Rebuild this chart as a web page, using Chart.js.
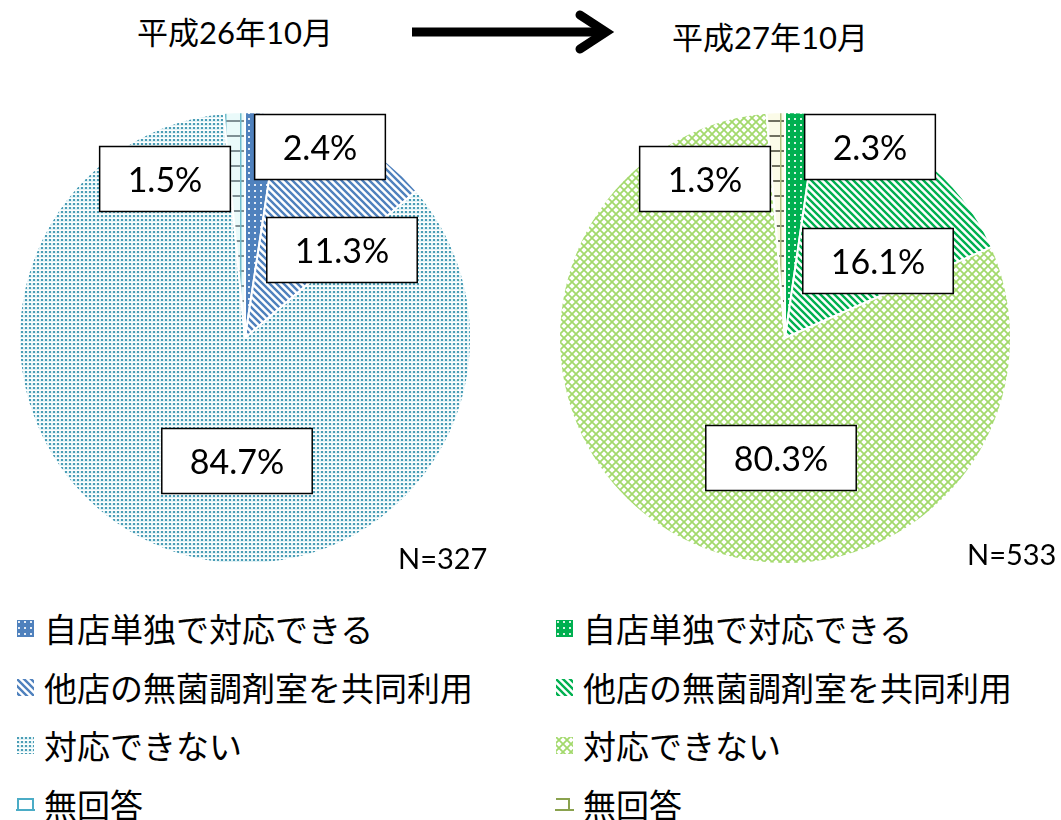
<!DOCTYPE html>
<html>
<head>
<meta charset="utf-8">
<script src="https://cdn.jsdelivr.net/npm/chart.js@4.4.1/dist/chart.umd.min.js"></script>
<style>
  body { margin: 0; background: #fff; width: 1061px; height: 820px; position: relative; overflow: hidden;
         font-family: Lato, "Noto Sans CJK JP", sans-serif; color: #000; }
  .title { position: absolute; font-size: 31px; line-height: 31px; white-space: nowrap; }
  .count { position: absolute; font-size: 29px; line-height: 29px; white-space: nowrap; }
  canvas.pie { position: absolute; }
  .row { position: absolute; display: flex; align-items: center; white-space: nowrap;
         font-family: "Noto Sans CJK JP", sans-serif; font-size: 33px; line-height: 40px; }
  .row canvas { margin-right: 9px; }
  #arrow { position: absolute; left: 400px; top: 8px; }
</style>
</head>
<body>

<div class="title" id="t0" style="left:137px;top:17px"></div>
<svg id="arrow" width="230" height="50">
  <line x1="12" y1="24" x2="200" y2="24" stroke="#000" stroke-width="9"/>
  <polyline points="180,7 206,24 180,41" fill="none" stroke="#000" stroke-width="9" stroke-linecap="round" stroke-linejoin="miter"/>
</svg>
<div class="title" id="t1" style="left:672px;top:22px"></div>

<canvas class="pie" id="pie0" width="540" height="480" style="left:0;top:98px"></canvas>
<canvas class="pie" id="pie1" width="521" height="480" style="left:540px;top:98px"></canvas>

<div class="count" id="n0" style="left:398px;top:543px"></div>
<div class="count" id="n1" style="left:967px;top:539px"></div>

<div id="legends"></div>

<script>
const periods = ['平成26年10月', '平成27年10月'];
const categories = ['自店単独で対応できる', '他店の無菌調剤室を共同利用', '対応できない', '無回答'];
const shares2014 = [2.4, 11.3, 84.7, 1.5];
const shares2015 = [2.3, 16.1, 80.3, 1.3];
const respondents = [327, 533];

// where each percentage box sits, relative to the pie centre
const boxOffsets = [
  [[75, -191], [97, -88], [-8, 123], [-80, -159]],
  [[85, -191], [93, -77], [-4, 120], [-80, -159]]
];

function tile(size, draw) {
  const c = document.createElement('canvas');
  c.width = c.height = size;
  const g = c.getContext('2d');
  draw(g, size);
  return g.createPattern(c, 'repeat');
}

// solid colour with small white dots
function dotted(base) {
  return tile(6, (g, s) => {
    g.fillStyle = base; g.fillRect(0, 0, s, s);
    g.fillStyle = 'rgba(255,255,255,0.85)'; g.fillRect(2, 2, 2, 2);
  });
}

// "\" stripes on white
function stripes(col) {
  return tile(7, (g, s) => {
    g.fillStyle = '#fff'; g.fillRect(0, 0, s, s);
    g.strokeStyle = col; g.lineWidth = 2.4;
    g.beginPath();
    g.moveTo(-2, -2); g.lineTo(s + 2, s + 2);
    g.moveTo(-2, s - 2); g.lineTo(2, s + 2);
    g.moveTo(s - 2, -2); g.lineTo(s + 2, 2);
    g.stroke();
  });
}

function speckle(col) {
  return tile(4, (g, s) => {
    g.fillStyle = '#e2f2f5'; g.fillRect(0, 0, s, s);
    g.fillStyle = '#fff'; g.fillRect(0, 0, s, 1);
    g.fillStyle = col; g.fillRect(1, 1, 2, 2);
  });
}

function lattice(col) {
  return tile(8, (g, s) => {
    g.fillStyle = '#fff'; g.fillRect(0, 0, s, s);
    g.strokeStyle = col; g.lineWidth = 1.8;
    g.beginPath();
    g.moveTo(0, 0); g.lineTo(s, s);
    g.moveTo(s, 0); g.lineTo(0, s);
    g.stroke();
  });
}

function grid(bg, hline, vline) {
  return tile(15, (g, s) => {
    g.fillStyle = bg; g.fillRect(0, 0, s, s);
    g.fillStyle = hline; g.fillRect(0, 7, s, 2);
    g.fillStyle = vline; g.fillRect(0, 0, 1.5, s);
  });
}

const fills = [
  [dotted('#4f81bd'), stripes('#4f81bd'), speckle('#4a9db6'), grid('#eafafa', '#7f8f94', '#6fbccc')],
  [dotted('#00b050'), stripes('#00b050'), lattice('#a3d96c'), grid('#fbfbe8', '#707060', '#b0c080')]
];
const edgeMarks = ['#4bacc6', '#8aa24e'];

const boxLabels = {
  id: 'boxLabels',
  afterDatasetsDraw(chart, args, opts) {
    const ctx = chart.ctx;
    const arcs = chart.getDatasetMeta(0).data;
    const vals = chart.data.datasets[0].data;
    const cx = arcs[0].x, cy = arcs[0].y;
    ctx.save();
    ctx.font = '34px Lato, "Noto Sans CJK JP"';
    ctx.textAlign = 'center';
    ctx.textBaseline = 'middle';
    vals.forEach((v, i) => {
      const txt = v.toFixed(1) + '%';
      const [dx, dy] = opts.offsets[i];
      const w = ctx.measureText(txt).width + 56, h = 65;
      const x = cx + dx, y = cy + dy;
      ctx.fillStyle = '#fff';
      ctx.fillRect(x - w / 2, y - h / 2, w, h);
      ctx.strokeStyle = '#000'; ctx.lineWidth = 1.5;
      ctx.strokeRect(x - w / 2, y - h / 2, w, h);
      ctx.fillStyle = '#000';
      ctx.fillText(txt, x, y + 2);
    });
    ctx.restore();
  }
};

[shares2014, shares2015].forEach((shares, k) => {
  const cv = document.getElementById('pie' + k);
  new Chart(cv, {
    type: 'pie',
    data: {
      labels: categories,
      datasets: [{
        data: shares,
        backgroundColor: fills[k],
        borderColor: '#fff',
        borderWidth: 2,
        hoverOffset: 0
      }]
    },
    options: {
      responsive: false,
      animation: false,
      radius: 226,
      layout: { padding: { left: 0, right: cv.width - 490, top: 0, bottom: 0 } },
      plugins: {
        legend: { display: false },
        tooltip: { enabled: false },
        boxLabels: { offsets: boxOffsets[k] }
      }
    },
    plugins: [boxLabels]
  });
  document.getElementById('t' + k).textContent = periods[k];
  document.getElementById('n' + k).textContent = 'N=' + respondents[k];
});

// legends below each pie
const legendBox = document.getElementById('legends');
const rowTops = [608, 667, 725, 784];
[16, 555].forEach((left, k) => {
  categories.forEach((name, i) => {
    const row = document.createElement('div');
    row.className = 'row';
    row.style.left = left + 'px';
    row.style.top = rowTops[i] + 'px';
    const sw = document.createElement('canvas');
    sw.width = 19; sw.height = 19;
    const g = sw.getContext('2d');
    if (i === 3) {
      g.strokeStyle = edgeMarks[k]; g.lineWidth = 2;
      g.beginPath();
      if (k === 0) {
        g.moveTo(1, 4); g.lineTo(18, 4);
        g.moveTo(2, 4); g.lineTo(2, 15);
        g.moveTo(17, 4); g.lineTo(17, 15);
        g.moveTo(0, 15); g.lineTo(19, 15);
      } else {
        g.moveTo(1, 4); g.lineTo(15, 4);
        g.moveTo(14, 4); g.lineTo(14, 15);
        g.moveTo(0, 15); g.lineTo(19, 15);
      }
      g.stroke();
    } else {
      g.fillStyle = fills[k][i];
      g.fillRect(1, 1, 17, 17);
    }
    row.appendChild(sw);
    const span = document.createElement('span');
    span.textContent = name;
    row.appendChild(span);
    legendBox.appendChild(row);
  });
});
</script>
</body>
</html>
